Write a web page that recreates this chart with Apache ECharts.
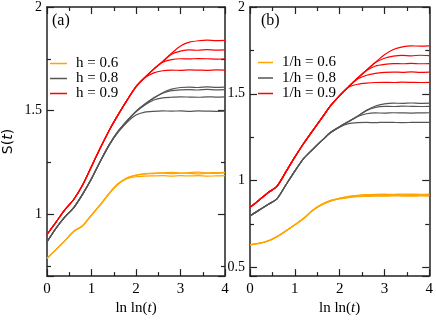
<!DOCTYPE html>
<html>
<head>
    <meta charset="utf-8">
    <script src="https://cdn.jsdelivr.net/npm/echarts@6.0.0/dist/echarts.min.js"></script>
    <style>
        html, body { margin: 0; padding: 0; background: #fff; }
        #chart { width: 436px; height: 321px; }
    </style>
</head>
<body>
<div id="chart"></div>
<script>
    // ln ln(t) sample points
    var lnlnT = [0, 0.2, 0.4, 0.6, 0.8, 1.0, 1.2, 1.4, 1.6, 1.8, 2.0, 2.2, 2.4, 2.6, 2.8, 3.0, 3.2, 3.4, 3.6, 3.8, 4.0];

    // panel (a)
    var legendA = ['h = 0.6', 'h = 0.8', 'h = 0.9'];
    var orangeA1 = [0.786, 0.828, 0.871, 0.917, 0.944, 0.996, 1.046, 1.101, 1.147, 1.175, 1.188, 1.195, 1.198, 1.199, 1.201, 1.198, 1.200, 1.202, 1.199, 1.200, 1.201];
    var orangeA2 = [0.785, 0.827, 0.870, 0.916, 0.943, 0.995, 1.045, 1.100, 1.146, 1.174, 1.187, 1.193, 1.195, 1.197, 1.195, 1.197, 1.196, 1.194, 1.197, 1.196, 1.198];
    var orangeA3 = [0.786, 0.828, 0.870, 0.915, 0.942, 0.994, 1.044, 1.099, 1.144, 1.170, 1.180, 1.183, 1.184, 1.185, 1.183, 1.185, 1.184, 1.185, 1.183, 1.184, 1.185];
    var grayA1 = [0.866, 0.931, 0.986, 1.031, 1.096, 1.171, 1.256, 1.335, 1.400, 1.451, 1.496, 1.531, 1.561, 1.586, 1.603, 1.611, 1.613, 1.611, 1.614, 1.612, 1.613];
    var grayA2 = [0.865, 0.930, 0.985, 1.030, 1.095, 1.170, 1.255, 1.335, 1.400, 1.450, 1.495, 1.530, 1.560, 1.583, 1.596, 1.600, 1.601, 1.599, 1.602, 1.600, 1.601];
    var grayA3 = [0.866, 0.931, 0.986, 1.031, 1.096, 1.171, 1.256, 1.335, 1.400, 1.450, 1.494, 1.527, 1.551, 1.561, 1.564, 1.566, 1.565, 1.564, 1.566, 1.565, 1.566];
    var grayA4 = [0.865, 0.930, 0.985, 1.030, 1.095, 1.170, 1.255, 1.333, 1.395, 1.443, 1.478, 1.492, 1.496, 1.498, 1.497, 1.498, 1.496, 1.498, 1.497, 1.496, 1.497];
    var redA1 = [0.901, 0.960, 1.020, 1.070, 1.140, 1.230, 1.320, 1.405, 1.480, 1.550, 1.615, 1.660, 1.701, 1.737, 1.777, 1.812, 1.830, 1.837, 1.840, 1.838, 1.839];
    var redA2 = [0.901, 0.960, 1.020, 1.070, 1.140, 1.230, 1.320, 1.405, 1.480, 1.550, 1.615, 1.660, 1.700, 1.736, 1.772, 1.787, 1.793, 1.791, 1.794, 1.792, 1.793];
    var redA3 = [0.901, 0.960, 1.020, 1.070, 1.140, 1.230, 1.320, 1.405, 1.480, 1.550, 1.615, 1.660, 1.700, 1.733, 1.746, 1.750, 1.749, 1.751, 1.750, 1.748, 1.750];
    var redA4 = [0.901, 0.960, 1.020, 1.070, 1.140, 1.230, 1.320, 1.405, 1.480, 1.550, 1.614, 1.658, 1.682, 1.692, 1.695, 1.694, 1.696, 1.695, 1.694, 1.696, 1.695];

    // panel (b)
    var legendB = ['1/h = 0.6', '1/h = 0.8', '1/h = 0.9'];
    var orangeB1 = [0.630, 0.638, 0.652, 0.677, 0.710, 0.745, 0.783, 0.830, 0.863, 0.886, 0.899, 0.909, 0.915, 0.919, 0.921, 0.922, 0.921, 0.923, 0.922, 0.921, 0.922];
    var orangeB2 = [0.630, 0.638, 0.652, 0.677, 0.710, 0.745, 0.783, 0.830, 0.862, 0.885, 0.898, 0.907, 0.913, 0.917, 0.918, 0.919, 0.920, 0.918, 0.919, 0.920, 0.919];
    var orangeB3 = [0.631, 0.639, 0.653, 0.678, 0.711, 0.746, 0.784, 0.829, 0.861, 0.884, 0.897, 0.905, 0.911, 0.913, 0.915, 0.914, 0.916, 0.915, 0.914, 0.916, 0.915];
    var orangeB4 = [0.630, 0.638, 0.652, 0.677, 0.710, 0.745, 0.782, 0.828, 0.860, 0.882, 0.894, 0.902, 0.907, 0.909, 0.911, 0.910, 0.912, 0.911, 0.910, 0.912, 0.911];
    var grayB1 = [0.796, 0.830, 0.862, 0.895, 0.975, 1.055, 1.128, 1.180, 1.230, 1.278, 1.311, 1.341, 1.371, 1.405, 1.430, 1.442, 1.446, 1.445, 1.447, 1.445, 1.446];
    var grayB2 = [0.796, 0.830, 0.862, 0.895, 0.975, 1.055, 1.128, 1.180, 1.230, 1.278, 1.310, 1.340, 1.370, 1.403, 1.422, 1.428, 1.427, 1.429, 1.428, 1.427, 1.428];
    var grayB3 = [0.796, 0.830, 0.862, 0.895, 0.975, 1.055, 1.128, 1.180, 1.230, 1.278, 1.310, 1.340, 1.369, 1.385, 1.390, 1.389, 1.391, 1.390, 1.389, 1.390, 1.391];
    var grayB4 = [0.796, 0.830, 0.862, 0.895, 0.975, 1.055, 1.128, 1.180, 1.230, 1.276, 1.308, 1.328, 1.334, 1.335, 1.334, 1.336, 1.335, 1.334, 1.335, 1.336, 1.335];
    var redB1 = [0.846, 0.887, 0.930, 0.967, 1.050, 1.135, 1.215, 1.288, 1.360, 1.432, 1.490, 1.541, 1.591, 1.636, 1.682, 1.725, 1.755, 1.770, 1.776, 1.775, 1.776];
    var redB2 = [0.846, 0.887, 0.930, 0.967, 1.050, 1.135, 1.215, 1.288, 1.360, 1.432, 1.490, 1.541, 1.590, 1.636, 1.680, 1.705, 1.717, 1.721, 1.719, 1.722, 1.720];
    var redB3 = [0.846, 0.887, 0.930, 0.967, 1.050, 1.135, 1.215, 1.288, 1.360, 1.432, 1.490, 1.541, 1.590, 1.634, 1.660, 1.670, 1.674, 1.673, 1.675, 1.673, 1.674];
    var redB4 = [0.846, 0.887, 0.930, 0.967, 1.050, 1.135, 1.215, 1.288, 1.360, 1.432, 1.490, 1.540, 1.585, 1.607, 1.618, 1.623, 1.625, 1.624, 1.626, 1.624, 1.625];
    var redB5 = [0.846, 0.887, 0.930, 0.967, 1.050, 1.135, 1.215, 1.288, 1.360, 1.432, 1.489, 1.538, 1.555, 1.562, 1.565, 1.566, 1.565, 1.567, 1.566, 1.565, 1.566];

    var ORANGE = '#ffa500', GRAY = '#555555', RED = '#ff0000';
    var AXIS = '#222';
    var SERIF = 'Liberation Serif';

    // panel p uses xAxis/yAxis 2*p (bottom/left) - the others are the mirrored frame axes
    function line(name, values, color, p) {
        return {
            name: name,
            type: 'line',
            xAxisIndex: p * 2,
            yAxisIndex: p * 2,
            data: lnlnT.map(function (x, i) { return [x, values[i]]; }),
            symbol: 'none',
            smooth: 0.25,
            lineStyle: { color: color, width: 1.2 },
            itemStyle: { color: color },
            z: color === RED ? 4 : 3
        };
    }

    function xAxis(idx, pos) {
        var bottom = pos === 'bottom';
        return {
            gridIndex: idx, type: 'value', position: pos,
            min: 0, max: 4, interval: 1,
            name: bottom ? '{r|ln ln(}{i|t}{r|)}' : '',
            nameLocation: 'middle', nameGap: 22,
            nameTextStyle: {
                rich: {
                    r: { fontFamily: SERIF, fontSize: 15, color: '#000' },
                    i: { fontFamily: SERIF, fontSize: 15, fontStyle: 'italic', color: '#000' }
                }
            },
            axisLine: { onZero: false, lineStyle: { color: AXIS, width: 1.5 } },
            axisTick: { inside: true, length: 7, lineStyle: { color: AXIS, width: 1.2 } },
            minorTick: { show: true, splitNumber: 2, length: 4, lineStyle: { color: AXIS, width: 1.2 } },
            axisLabel: { show: bottom, fontFamily: SERIF, fontSize: 15, color: '#000', margin: 5 },
            splitLine: { show: false },
            minorSplitLine: { show: false }
        };
    }

    function yAxis(idx, pos, min) {
        var left = pos === 'left';
        return {
            gridIndex: idx, type: 'value', position: pos,
            min: min, max: 2, splitNumber: 3,
            name: (left && idx === 0) ? '{r|S(}{i|t}{r|)}' : '',
            nameLocation: 'middle', nameGap: 32,
            nameTextStyle: {
                rich: {
                    r: { fontFamily: 'DejaVu Sans', fontSize: 14, color: '#000' },
                    i: { fontFamily: 'DejaVu Sans', fontSize: 14, fontStyle: 'italic', color: '#000' }
                }
            },
            axisLine: { onZero: false, lineStyle: { color: AXIS, width: 1.5 } },
            axisTick: { inside: true, length: 7, lineStyle: { color: AXIS, width: 1.2 } },
            minorTick: { show: true, splitNumber: 2, length: 4, lineStyle: { color: AXIS, width: 1.2 } },
            axisLabel: {
                show: left, fontFamily: SERIF, fontSize: 14, color: '#000', margin: 5,
                formatter: function (v) {
                    return Math.abs(v * 2 - Math.round(v * 2)) < 1e-6 ? String(v) : '';
                }
            },
            splitLine: { show: false },
            minorSplitLine: { show: false }
        };
    }

    var chart = echarts.init(document.getElementById('chart'), null, { renderer: 'canvas' });

    var series = [
        line(legendA[0], orangeA1, ORANGE, 0), line(legendA[0], orangeA2, ORANGE, 0), line(legendA[0], orangeA3, ORANGE, 0),
        line(legendA[1], grayA1, GRAY, 0), line(legendA[1], grayA2, GRAY, 0), line(legendA[1], grayA3, GRAY, 0), line(legendA[1], grayA4, GRAY, 0),
        line(legendA[2], redA1, RED, 0), line(legendA[2], redA2, RED, 0), line(legendA[2], redA3, RED, 0), line(legendA[2], redA4, RED, 0),
        line(legendB[0], orangeB1, ORANGE, 1), line(legendB[0], orangeB2, ORANGE, 1), line(legendB[0], orangeB3, ORANGE, 1), line(legendB[0], orangeB4, ORANGE, 1),
        line(legendB[1], grayB1, GRAY, 1), line(legendB[1], grayB2, GRAY, 1), line(legendB[1], grayB3, GRAY, 1), line(legendB[1], grayB4, GRAY, 1),
        line(legendB[2], redB1, RED, 1), line(legendB[2], redB2, RED, 1), line(legendB[2], redB3, RED, 1), line(legendB[2], redB4, RED, 1), line(legendB[2], redB5, RED, 1)
    ];

    var legendText = { fontFamily: SERIF, fontSize: 15, lineHeight: 14.5, color: '#000', padding: [0, 0, 0, 4] };

    chart.setOption({
        animation: false,
        backgroundColor: '#fff',
        title: [
            { text: '(a)', left: 52, top: 13, padding: 0, textStyle: { fontFamily: SERIF, fontSize: 16, fontWeight: 'normal', color: '#000' } },
            { text: '(b)', left: 261, top: 13, padding: 0, textStyle: { fontFamily: SERIF, fontSize: 16, fontWeight: 'normal', color: '#000' } }
        ],
        legend: [
            { data: legendA, orient: 'vertical', left: 50, top: 56, padding: 0, icon: 'rect', itemWidth: 17, itemHeight: 1.5, itemGap: 0, textStyle: legendText, selectedMode: false },
            { data: legendB, orient: 'vertical', left: 258, top: 55, padding: 0, icon: 'rect', itemWidth: 15, itemHeight: 1.5, itemGap: 0.5, textStyle: legendText, selectedMode: false }
        ],
        grid: [
            { left: 42, top: 5, width: 183, height: 282 },
            { left: 250, top: 5, width: 182, height: 282 }
        ],
        xAxis: [xAxis(0, 'bottom'), xAxis(0, 'top'), xAxis(1, 'bottom'), xAxis(1, 'top')],
        yAxis: [yAxis(0, 'left', 0.7), yAxis(0, 'right', 0.7), yAxis(1, 'left', 0.45), yAxis(1, 'right', 0.45)],
        series: series
    });
</script>
</body>
</html>
